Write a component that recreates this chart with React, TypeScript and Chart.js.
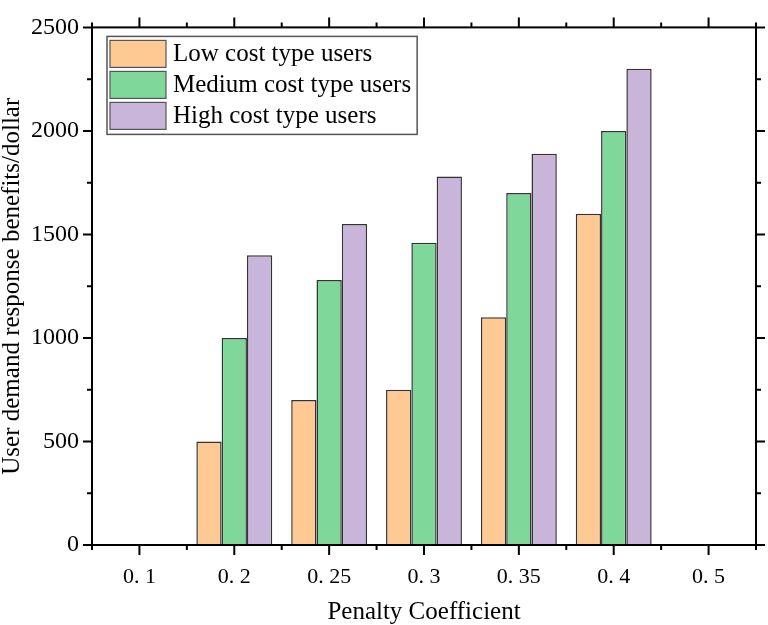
import { useEffect, useRef } from "react";
import { Chart, registerables } from "chart.js";

Chart.register(...registerables);

const categories = ["0. 1", "0. 2", "0. 25", "0. 3", "0. 35", "0. 4", "0. 5"];
const lowCost = [0, 500, 700, 750, 1100, 1600, 0];
const mediumCost = [0, 1000, 1280, 1460, 1700, 2000, 0];
const highCost = [0, 1400, 1550, 1780, 1890, 2300, 0];
const seriesNames = ["Low cost type users", "Medium cost type users", "High cost type users"];
const seriesColors = ["#FFC994", "#7FD89A", "#C9B4DA"];
const yMax = 2500;
const yStep = 500;
const yMinorStep = 250;

const FONT = "'Liberation Serif', 'Times New Roman', serif";

// box + outward ticks on all four sides
const framePlugin = {
  id: "frame",
  afterDraw(chart: any) {
    const { ctx, chartArea: a, scales } = chart;
    const x = scales.x;
    const y = scales.y;
    const n = chart.data.labels.length;
    const step = x.getPixelForTick(1) - x.getPixelForTick(0);

    ctx.save();
    ctx.strokeStyle = "#000";
    ctx.lineWidth = 2;
    ctx.strokeRect(a.left, a.top, a.right - a.left, a.bottom - a.top);

    ctx.beginPath();
    for (let i = 0; i < n; i++) {
      const px = x.getPixelForTick(i);
      ctx.moveTo(px, a.bottom);
      ctx.lineTo(px, a.bottom + 10);
      ctx.moveTo(px, a.top);
      ctx.lineTo(px, a.top - 10);
    }
    for (let i = 0; i <= n; i++) {
      const px = x.getPixelForTick(0) + (i - 0.5) * step;
      ctx.moveTo(px, a.bottom);
      ctx.lineTo(px, a.bottom + 5);
      ctx.moveTo(px, a.top);
      ctx.lineTo(px, a.top - 5);
    }
    for (let v = 0; v <= yMax; v += yMinorStep) {
      const py = y.getPixelForValue(v);
      const len = v % yStep === 0 ? 9 : 5;
      ctx.moveTo(a.left, py);
      ctx.lineTo(a.left - len, py);
      ctx.moveTo(a.right, py);
      ctx.lineTo(a.right + len, py);
    }
    ctx.stroke();
    ctx.restore();
  },
};

// legend box inside the plot, top-left
const boxLegendPlugin = {
  id: "boxLegend",
  afterDraw(chart: any) {
    const { ctx, chartArea: a } = chart;
    const sets = chart.data.datasets;
    const left = a.left + 15;
    const top = a.top + 9;
    const rowH = 31;

    ctx.save();
    ctx.font = `25px ${FONT}`;
    let maxW = 0;
    sets.forEach((d: any) => {
      maxW = Math.max(maxW, ctx.measureText(d.label).width);
    });
    const w = 66 + maxW + 6;
    const h = sets.length * rowH + 5;

    ctx.fillStyle = "#fff";
    ctx.fillRect(left, top, w, h);
    ctx.strokeStyle = "#555";
    ctx.lineWidth = 1.5;
    ctx.strokeRect(left, top, w, h);

    sets.forEach((d: any, i: number) => {
      const sy = top + 4 + i * rowH;
      ctx.fillStyle = d.backgroundColor;
      ctx.fillRect(left + 3, sy, 56, 27);
      ctx.strokeStyle = "#555";
      ctx.lineWidth = 1.2;
      ctx.strokeRect(left + 3, sy, 56, 27);
      ctx.fillStyle = "#000";
      ctx.textBaseline = "middle";
      ctx.textAlign = "left";
      ctx.fillText(d.label, left + 66, sy + 14);
    });
    ctx.restore();
  },
};

function BarGroupChart() {
  const canvasRef = useRef<HTMLCanvasElement>(null);
  const chartRef = useRef<Chart<"bar"> | null>(null);

  useEffect(() => {
    if (!canvasRef.current) return;
    if (chartRef.current) chartRef.current.destroy();

    const values = [lowCost, mediumCost, highCost];
    const datasets = values.map((data, idx) => ({
      label: seriesNames[idx],
      data,
      backgroundColor: seriesColors[idx],
      borderColor: "#333",
      borderWidth: 1.5,
      categoryPercentage: 0.8,
      barPercentage: 1.0,
    }));

    chartRef.current = new Chart(canvasRef.current, {
      type: "bar",
      data: { labels: categories, datasets },
      plugins: [framePlugin, boxLegendPlugin],
      options: {
        responsive: false,
        animation: false,
        layout: { padding: { top: 11, right: 12, left: 0, bottom: 0 } },
        plugins: {
          legend: { display: false },
          tooltip: { enabled: false },
        },
        scales: {
          x: {
            grid: { display: false, drawTicks: false },
            border: { display: false },
            ticks: {
              color: "#000",
              padding: 19,
              font: { family: FONT, size: 22 },
            },
            title: {
              display: true,
              text: "Penalty Coefficient",
              color: "#000",
              font: { family: FONT, size: 25, lineHeight: 1 },
              padding: { top: 4, bottom: 0 },
            },
            afterFit: (scale: any) => {
              scale.height = 80;
            },
          },
          y: {
            min: 0,
            max: yMax,
            grid: { display: false, drawTicks: false },
            border: { display: false },
            ticks: {
              stepSize: yStep,
              color: "#000",
              padding: 13,
              font: { family: FONT, size: 24 },
              callback: (v: any) => String(v),
            },
            title: {
              display: true,
              text: "User demand response benefits/dollar",
              color: "#000",
              font: { family: FONT, size: 25, lineHeight: 1 },
              padding: { top: 0, bottom: 0 },
            },
            afterFit: (scale: any) => {
              scale.width = 92;
            },
          },
        },
      },
    });

    return () => {
      if (chartRef.current) {
        chartRef.current.destroy();
        chartRef.current = null;
      }
    };
  }, []);

  return (
    <div style={{ width: 768, height: 625, background: "#fff" }}>
      <canvas ref={canvasRef} width={768} height={625} />
    </div>
  );
}

export default function App() {
  useEffect(() => {
    document.body.style.margin = "0";
  }, []);
  return <BarGroupChart />;
}
